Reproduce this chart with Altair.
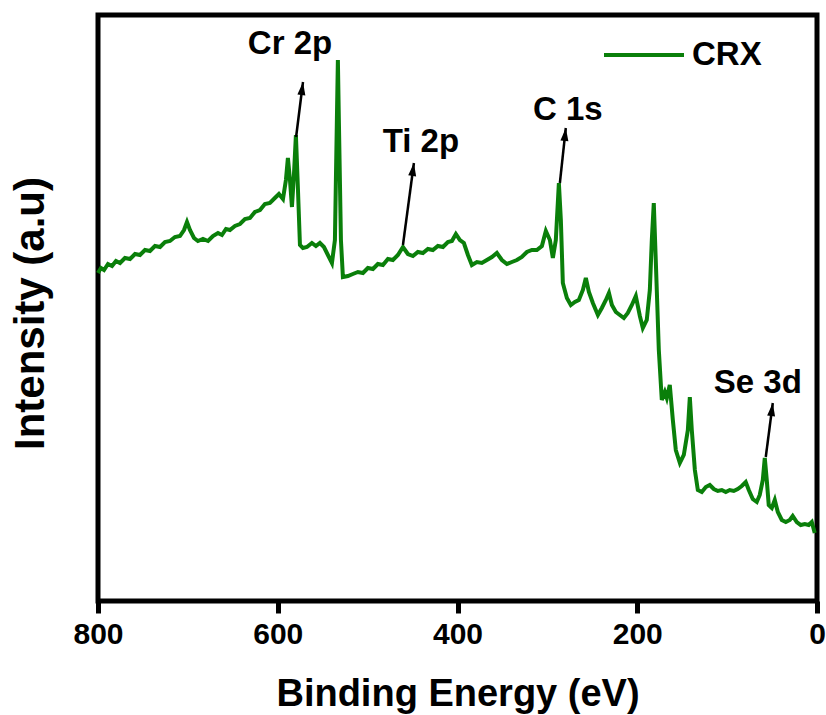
import math
import altair as alt
import pandas as pd

# XPS survey spectrum (binding energy in eV, intensity in arbitrary units)
energy = [800.0, 796.7, 793.3, 788.9, 784.4, 780.0, 775.5, 770.0, 764.4, 758.8,
          753.3, 747.7, 742.2, 736.6, 731.0, 725.5, 719.9, 714.4, 708.8, 704.3,
          701.0, 697.7, 693.2, 688.8, 683.2, 677.6, 672.1, 666.5, 662.1, 657.6,
          653.2, 647.6, 642.1, 636.5, 630.9, 625.4, 619.8, 614.3, 608.7, 603.2,
          598.7, 594.2, 590.9, 588.7, 586.4, 584.2, 582.0, 579.8, 577.5, 575.3,
          572.0, 567.5, 562.0, 557.5, 553.1, 548.6, 544.2, 539.7, 536.4, 534.2,
          533.1, 532.0, 529.7, 527.5, 521.9, 516.4, 510.8, 505.2, 499.7, 494.1,
          488.6, 483.0, 477.4, 471.9, 466.3, 460.7, 455.2, 449.6, 444.1, 438.5,
          432.9, 427.4, 421.8, 416.2, 410.7, 406.2, 401.8, 397.3, 392.9, 388.4,
          384.0, 378.4, 372.9, 367.3, 361.7, 356.2, 350.6, 345.0, 339.5, 333.9,
          328.4, 322.8, 317.2, 311.7, 306.1, 301.7, 297.2, 293.9, 290.6, 287.2,
          285.0, 282.8, 278.3, 273.9, 269.4, 265.0, 260.5, 257.2, 253.8, 249.4,
          243.8, 239.4, 234.9, 231.5, 228.2, 223.8, 219.4, 214.9, 210.5, 206.0,
          201.6, 197.1, 193.8, 189.4, 186.0, 183.8, 181.6, 179.4, 176.0, 172.7,
          169.3, 167.1, 163.8, 160.4, 157.1, 152.6, 148.2, 143.7, 141.5, 139.3,
          135.9, 132.6, 128.2, 123.7, 119.3, 114.8, 110.4, 105.9, 101.5, 97.1,
          92.6, 88.2, 83.7, 79.3, 75.9, 71.5, 67.0, 63.7, 60.3, 58.1,
          55.9, 53.7, 50.3, 47.0, 43.6, 39.2, 34.7, 30.3, 27.0, 22.5,
          18.1, 13.6, 9.2, 5.8, 2.5]
intensity = [328, 333, 331, 337, 335, 340, 338, 343, 342, 347,
             346, 351, 350, 355, 354, 359, 360, 364, 365, 371,
             379, 371, 363, 360, 362, 360, 365, 368, 366, 372,
             371, 375, 377, 382, 383, 389, 391, 397, 398, 403,
             407, 402, 421, 443, 421, 394, 426, 466, 411, 356,
             353, 354, 358, 355, 358, 354, 346, 338, 361, 481,
             541, 481, 361, 324, 325, 327, 329, 328, 333, 332,
             337, 336, 342, 341, 346, 354, 347, 345, 349, 348,
             352, 351, 355, 354, 359, 360, 367, 361, 358, 346,
             336, 339, 338, 341, 344, 348, 341, 337, 339, 341,
             344, 349, 351, 351, 355, 370, 361, 343, 361, 418,
             381, 318, 303, 296, 299, 301, 311, 323, 309, 298,
             286, 293, 301, 308, 296, 289, 286, 283, 288, 296,
             305, 285, 273, 281, 311, 361, 398, 341, 251, 201,
             209, 203, 216, 181, 151, 138, 146, 171, 204, 171,
             131, 111, 109, 114, 116, 112, 110, 111, 109, 111,
             110, 112, 115, 119, 111, 102, 99, 106, 121, 143,
             121, 96, 93, 101, 89, 81, 79, 81, 85, 79,
             76, 77, 76, 79, 68]
series_name = "CRX"

# Peak annotations: arrow tail (on curve), arrow tip, label centre
ann_label = ["Cr 2p", "Ti 2p", "C 1s", "Se 3d"]
ann_x0 = [579.6, 460.7, 286.1, 57.0]
ann_y0 = [464, 356, 418, 144]
ann_x1 = [571.9, 448.5, 279.5, 49.2]
ann_y1 = [519, 438, 473, 198]
ann_tx = [586.4, 440.7, 277.2, 65.9]
ann_ty = [557, 459, 491, 218]

x_ticks = [0, 200, 400, 600, 800]

W, H = 719, 586
X_DOM = [0, 800]
Y_DOM = [0, 586]
FONT = "Liberation Sans"
GREEN = "#0a7f0a"

px_per_x = W / (X_DOM[1] - X_DOM[0])
px_per_y = H / (Y_DOM[1] - Y_DOM[0])
angles = []
for a, b, c, d in zip(ann_x0, ann_y0, ann_x1, ann_y1):
    dx = (a - c) * px_per_x  # reversed axis: lower energy -> right
    dy = (d - b) * px_per_y
    angles.append(math.degrees(math.atan2(dx, dy)) % 360)

df = pd.DataFrame({"E": energy, "I": intensity, "sample": series_name})
ann = pd.DataFrame({"label": ann_label, "x0": ann_x0, "y0": ann_y0,
                    "x1": ann_x1, "y1": ann_y1, "tx": ann_tx, "ty": ann_ty,
                    "ang": angles})

xs = alt.Scale(domain=X_DOM, reverse=True, nice=False, zero=False)
ys = alt.Scale(domain=Y_DOM, nice=False, zero=False)

x_axis = alt.Axis(values=x_ticks, title="Binding Energy (eV)", grid=False, domain=False,
                  ticks=True, tickSize=12, tickWidth=5, tickColor="black",
                  labelFont=FONT, labelFontSize=30, labelFontWeight="bold", labelColor="black",
                  labelBaseline="alphabetic", labelPadding=30, labelFlush=False,
                  titleFont=FONT, titleFontSize=38, titleFontWeight="bold", titleColor="black",
                  titleBaseline="alphabetic", titleY=104)
y_axis = alt.Axis(title="Intensity (a.u)", grid=False, domain=False, ticks=False, labels=False,
                  titleFont=FONT, titleFontSize=42, titleFontWeight="bold", titleColor="black",
                  titleBaseline="alphabetic", titleX=-55, titleY=298)

line = alt.Chart(df).mark_line(strokeWidth=4).encode(
    x=alt.X("E:Q", scale=xs, axis=x_axis),
    y=alt.Y("I:Q", scale=ys, axis=y_axis),
    color=alt.Color("sample:N", scale=alt.Scale(domain=[series_name], range=[GREEN]),
                    legend=alt.Legend(orient="none", legendX=504, legendY=-2, title=None,
                                      symbolType="stroke", symbolSize=6400,
                                      symbolStrokeWidth=4, labelOffset=6,
                                      labelFont=FONT, labelFontSize=33,
                                      labelFontWeight="bold", labelColor="black")),
)

arrows = alt.Chart(ann).mark_rule(color="black", strokeWidth=2.5).encode(
    x=alt.X("x0:Q", scale=xs, axis=x_axis), y=alt.Y("y0:Q", scale=ys, axis=y_axis),
    x2="x1:Q", y2="y1:Q",
)
heads = alt.Chart(ann).mark_point(shape="M0,0L0.8,2.6L-0.8,2.6Z", filled=True, color="black",
                                  size=100, opacity=1).encode(
    x=alt.X("x1:Q", scale=xs, axis=x_axis), y=alt.Y("y1:Q", scale=ys, axis=y_axis),
    angle=alt.Angle("ang:Q", scale=None),
)
labels = alt.Chart(ann).mark_text(font=FONT, fontSize=33, fontWeight="bold", color="black",
                                  baseline="middle").encode(
    x=alt.X("tx:Q", scale=xs, axis=x_axis), y=alt.Y("ty:Q", scale=ys, axis=y_axis),
    text="label:N",
)

chart = alt.layer(line, arrows, heads, labels).properties(
    width=W, height=H,
    padding={"left": 98, "top": 15, "right": 9, "bottom": 114},
    autosize=alt.AutoSizeParams(type="none"),
    background="white",
).configure_view(stroke="black", strokeWidth=5)

chart.save("out.html", embed_options={"renderer": "svg", "actions": False})
